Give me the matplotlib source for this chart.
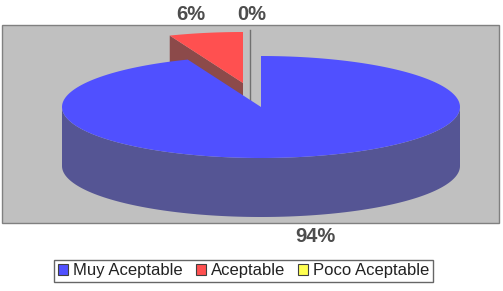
# 3D-style pie (Excel look) for acceptability survey

import matplotlib
matplotlib.use("Agg")
import matplotlib.pyplot as plt
import numpy as np
from matplotlib.patches import Polygon, Rectangle, Patch

categories = ["Muy Aceptable", "Aceptable", "Poco Aceptable"]
values = [94, 6, 0]
labels = ["94%", "6%", "0%"]

top_colors = ["#5050FF", "#FF5050", "#FFFF50"]
side_colors = ["#555594", "#8C4A4A", "#94944A"]

# Pie geometry in pixels
cx, cy = 261, 107
rx, ry = 199, 51
depth = 59
explode_px = [(0, 0), (-18, -24), (-11, -26)]
label_pos = [(315, 236), (191, 14), (252, 14)]

plt.rcParams["font.family"] = ["Liberation Sans", "DejaVu Sans"]

fig = plt.figure(figsize=(5.03, 2.91), dpi=100)
ax = fig.add_axes([0, 0, 1, 1])
ax.set_xlim(0, 503)
ax.set_ylim(291, 0)
ax.axis("off")

ax.add_patch(Rectangle((2, 25), 497, 198, facecolor="#C0C0C0",
                       edgecolor="#808080", linewidth=1, zorder=0))


def pt(th, dx, dy, r=1.0, dz=0.0):
    return (cx + dx + rx * r * np.sin(th), cy + dy - ry * r * np.cos(th) + dz)


fracs = np.array(values, dtype=float) / sum(values)
bounds = np.concatenate([[0], np.cumsum(fracs)]) * 2 * np.pi

# draw back slices first, the big front slice last
order = [1, 2, 0]
z = 1
for i in order:
    a0, a1 = bounds[i], bounds[i + 1]
    dx, dy = explode_px[i]
    apex = (cx + dx, cy + dy)
    if a1 - a0 < 1e-6:
        # zero slice: only a thin line
        p_top = pt(a0, dx, dy)
        ax.plot([p_top[0], p_top[0]], [p_top[1], apex[1] + depth],
                color="#707070", linewidth=1, zorder=z)
        z += 1
        continue
    # radial face at start
    if np.sin(a0) < -1e-6:
        r0 = pt(a0, dx, dy)
        poly = [apex, r0, (r0[0], r0[1] + depth), (apex[0], apex[1] + depth)]
        ax.add_patch(Polygon(poly, closed=True, facecolor=side_colors[i],
                             edgecolor="none", zorder=z))
    # radial face at end
    if np.sin(a1) > 1e-6:
        r1 = pt(a1, dx, dy)
        poly = [apex, r1, (r1[0], r1[1] + depth), (apex[0], apex[1] + depth)]
        ax.add_patch(Polygon(poly, closed=True, facecolor=side_colors[i],
                             edgecolor="none", zorder=z))
    # outer curved face, front half only
    s0, s1 = max(a0, np.pi / 2), min(a1, 1.5 * np.pi)
    if s1 > s0:
        th = np.linspace(s0, s1, 120)
        top = [pt(t, dx, dy) for t in th]
        bot = [pt(t, dx, dy, dz=depth) for t in th[::-1]]
        ax.add_patch(Polygon(top + bot, closed=True, facecolor=side_colors[i],
                             edgecolor="none", zorder=z))
    # top face
    th = np.linspace(a0, a1, 200)
    poly = [apex] + [pt(t, dx, dy) for t in th]
    ax.add_patch(Polygon(poly, closed=True, facecolor=top_colors[i],
                         edgecolor="none", zorder=z + 0.5))
    z += 1

for lab, (lx, ly) in zip(labels, label_pos):
    ax.text(lx, ly, lab, ha="center", va="center", fontsize=14.5,
            fontweight="bold", color="#4D4D4D", zorder=10)

handles = [Patch(facecolor=c, edgecolor="#404040", linewidth=0.8) for c in top_colors]
leg = fig.legend(handles, categories, loc="center", ncol=3,
                 bbox_to_anchor=(243.5 / 503, 1 - 271 / 291),
                 fontsize=12, frameon=True, fancybox=False, edgecolor="#404040",
                 handlelength=0.6, handleheight=0.6, handletextpad=0.3,
                 columnspacing=0.8, borderpad=0.2, borderaxespad=0)
leg.get_frame().set_linewidth(1)
for t in leg.get_texts():
    t.set_color("#222222")

fig.savefig("out.png", dpi=100)
